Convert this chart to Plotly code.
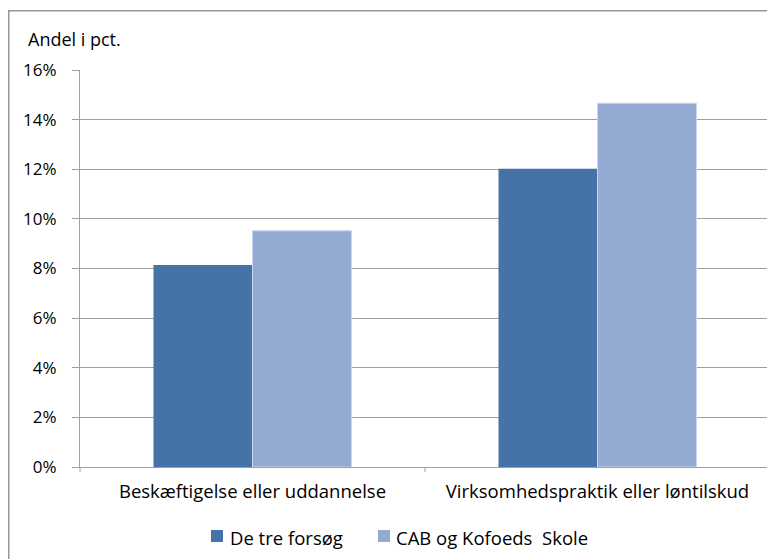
import plotly.graph_objects as go

categories = ["Beskæftigelse eller uddannelse", "Virksomhedspraktik eller løntilskud"]
series_names = ["De tre forsøg", "CAB og Kofoeds  Skole"]
values_a = [0.0814, 0.1202]
values_b = [0.0952, 0.1466]
y_ticks = [0, 0.02, 0.04, 0.06, 0.08, 0.10, 0.12, 0.14, 0.16]
y_tick_labels = ["0%", "2%", "4%", "6%", "8%", "10%", "12%", "14%", "16%"]
y_title = "Andel i pct."

colors = ["#4573A7", "#95AAD2"]
FONT = "Open Sans"

# The page shows the figure with an 8px body margin, so work in
# reference-pixel coordinates and subtract that offset.
OFF = 8
W, H = 775, 559
L = 80 - OFF
R = W - (770 - OFF)
T = 70 - OFF
B = H - (467 - OFF)
pw, ph = W - L - R, H - T - B


def px_x(px):
    return (px - OFF - L) / pw


def px_y(py):
    return (H - B - (py - OFF)) / ph


fig = go.Figure()
fig.add_trace(go.Bar(x=categories, y=values_a, name=series_names[0],
                     marker=dict(color=colors[0], line=dict(width=0))))
fig.add_trace(go.Bar(x=categories, y=values_b, name=series_names[1],
                     marker=dict(color=colors[1], line=dict(width=1, color="#C9D6EC"))))

grid = "#A0A0A0"
shapes = [
    dict(type="rect", xref="paper", yref="paper",
         x0=px_x(8.75), x1=px_x(800), y0=px_y(600), y1=px_y(10.75),
         line=dict(color="#979797", width=1.5), layer="below"),
]
for xv in (0.0, 0.5, 1.0):
    shapes.append(dict(type="line", xref="paper", yref="paper", x0=xv, x1=xv,
                       y0=0, y1=-5 / ph, line=dict(color=grid, width=1)))

# legend (manual, to match the compact key spacing)
legend_sq = [(211, 223), (378, 390)]
legend_tx = [228, 394]
annotations = [dict(text=y_title, xref="paper", yref="paper",
                    x=px_x(26), y=px_y(39), xanchor="left", yanchor="middle",
                    showarrow=False, font=dict(family=FONT, size=18, color="#000"))]
for i, name in enumerate(series_names):
    x0, x1 = legend_sq[i]
    shapes.append(dict(type="rect", xref="paper", yref="paper",
                       x0=px_x(x0), x1=px_x(x1), y0=px_y(542), y1=px_y(530),
                       line=dict(width=0), fillcolor=colors[i]))
    annotations.append(dict(text=name, xref="paper", yref="paper",
                            x=px_x(legend_tx[i]), y=px_y(537), xanchor="left", yanchor="middle",
                            showarrow=False, font=dict(family=FONT, size=18.5, color="#000")))

fig.update_layout(
    width=W, height=H,
    margin=dict(l=L, r=R, t=T, b=B, autoexpand=False),
    paper_bgcolor="white", plot_bgcolor="white",
    barmode="group", bargap=0.426, bargroupgap=0,
    font=dict(family=FONT, size=18, color="#000000"),
    showlegend=False,
    xaxis=dict(showline=True, linecolor=grid, linewidth=1, ticks="", showgrid=False,
               tickfont=dict(family=FONT, size=18.5, color="#000"),
               ticklabelstandoff=8, fixedrange=True),
    yaxis=dict(range=[0, 0.16], tickvals=y_ticks, ticktext=y_tick_labels,
               showline=True, linecolor=grid, linewidth=1,
               ticks="outside", ticklen=7, tickcolor=grid,
               showgrid=True, gridcolor=grid, gridwidth=1,
               tickfont=dict(family=FONT, size=17, color="#000"),
               ticklabelstandoff=12, zeroline=False, fixedrange=True),
    annotations=annotations,
    shapes=shapes,
)

fig.write_html("out.html")
